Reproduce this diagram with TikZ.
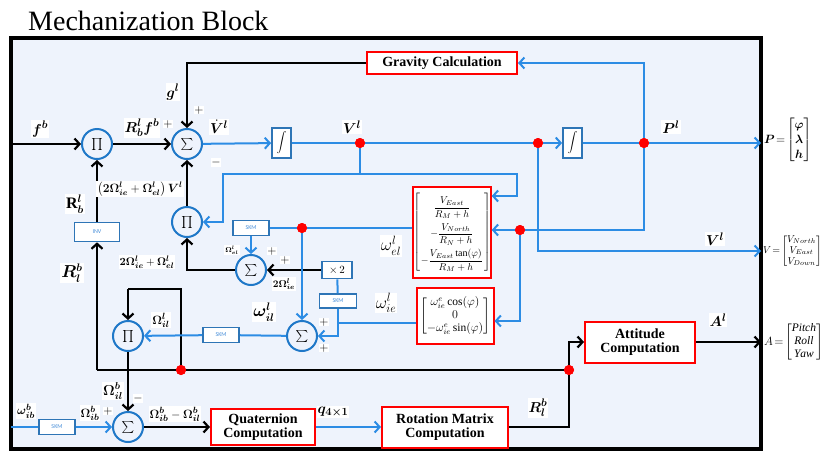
\documentclass[tikz,border=0pt]{standalone}
\usepackage{amsmath}
\usepackage{bm}
\usepackage{fontspec}
\setmainfont{Liberation Serif}
\newfontfamily\skmfont{Carlito}
\usetikzlibrary{arrows.meta,calc}
\definecolor{bgblue}{HTML}{EEF3FC}
\definecolor{lnblue}{HTML}{2C8CE4}
\definecolor{cblue}{HTML}{1F78C8}
\definecolor{bxblue}{HTML}{2E75B6}
\definecolor{skmtxt}{HTML}{4A90D9}
\begin{document}
\begin{tikzpicture}[x=1pt,y=-1pt,
  arr/.style={-{Straight Barb[length=5pt,width=11pt]}},
  blk/.style={draw=black,line width=2.2pt},
  blu/.style={draw=lnblue,line width=2pt},
  opnode/.style={circle,draw=cblue,line width=2pt,fill=bgblue,minimum size=30pt,inner sep=0pt,font=\fontsize{13}{15}\selectfont},
  intbox/.style={draw=bxblue,line width=1.8pt,fill=white,minimum width=19pt,minimum height=30pt,inner sep=0pt},
  skmbox/.style={draw=bxblue,line width=1.6pt,fill=white,minimum width=36pt,minimum height=15pt,inner sep=0pt,font=\skmfont\fontsize{6}{7}\selectfont,text=skmtxt},
  redbox/.style={draw=red,line width=2pt,fill=white,inner sep=0pt,align=center,font=\bfseries\fontsize{14}{16}\selectfont},
  redmat/.style={draw=red,line width=2pt,fill=white,inner sep=0pt},
  lbl/.style={fill=white,inner sep=1pt,font=\fontsize{15}{17}\selectfont},
  sgn/.style={fill=white,inner sep=0.5pt,font=\fontsize{12}{13}\selectfont},
  dot/.style={circle,fill=red,minimum size=10pt,inner sep=0pt}
]
\useasboundingbox (0,0) rectangle (824,453);
\node[anchor=base west,font=\fontsize{28}{30}\selectfont,inner sep=0pt] (title) at (28,30) {Mechanization Block};
\draw[line width=3.5pt,fill=bgblue] (11,38) rectangle (761,449);

% frame coordinates
\coordinate (fin) at (11,144);
\coordinate (pout) at (761,143);
\coordinate (vout) at (761,251);
\coordinate (aout) at (761,342);
\coordinate (win) at (11,427);
\coordinate (c2) at (360,174);
\coordinate (c3) at (517,174);
\coordinate (c5) at (223,174);
\coordinate (c1) at (644,230);
\coordinate (c6) at (338,323);
\coordinate (c7) at (97,370);
\coordinate (c8) at (181,289);
\coordinate (c9) at (128,289);

% operator nodes
\node[opnode] (P1) at (97,144) {$\prod$};
\node[opnode] (S1) at (187,144) {$\sum$};
\node[opnode] (P2) at (187,222) {$\prod$};
\node[opnode] (S3) at (251,270) {$\sum$};
\node[opnode] (S4) at (302,336) {$\sum$};
\node[opnode] (P3) at (128,336) {$\prod$};
\node[opnode] (S5) at (128,427) {$\sum$};

\node[intbox] (I1) at (281.5,143) {$\displaystyle\int$};
\node[intbox] (I2) at (572.5,143) {$\displaystyle\int$};

\node[skmbox] (skm1) at (251,228) {SKM};
\node[skmbox,minimum width=37pt,minimum height=14pt] (skm2) at (338,301) {SKM};
\node[skmbox] (skm3) at (221,335) {SKM};
\node[skmbox] (skm4) at (57,427) {SKM};
\node[skmbox,minimum width=45pt,minimum height=19pt] (inv) at (97,232) {INV};
\node[draw=bxblue,line width=1.6pt,fill=white,minimum width=30pt,minimum height=17pt,inner sep=0pt,font=\fontsize{11}{12}\selectfont] (x2) at (337,270) {$\times\,2$};

\node[redbox,minimum width=150pt,minimum height=22pt] (grav) at (442,63) {Gravity Calculation};
\node[redbox,minimum width=104pt,minimum height=36pt] (quat) at (263,427) {Quaternion\\[-2pt]Computation};
\node[redbox,minimum width=126pt,minimum height=41pt] (rot) at (445,427) {Rotation Matrix\\[-2pt]Computation};
\node[redbox,minimum width=110pt,minimum height=41pt] (att) at (640,342) {Attitude\\[-2pt]Computation};
\node[redmat,minimum width=71pt,minimum height=91pt,font=\fontsize{10}{12}\selectfont] (wel) at (452,232)
 {\renewcommand{\arraystretch}{2.15}\setlength{\arraycolsep}{1pt}$\left[\begin{array}{c}\dfrac{V_{East}}{R_M+h}\\ -\dfrac{V_{North}}{R_N+h}\\ -\dfrac{V_{East}\tan(\varphi)}{R_M+h}\end{array}\right]$};
\node[redmat,minimum width=77pt,minimum height=56pt,font=\fontsize{11.5}{13}\selectfont] (wie) at (455,316)
 {$\begin{bmatrix}\omega_{ie}^{e}\cos(\varphi)\\ 0\\ -\omega_{ie}^{e}\sin(\varphi)\end{bmatrix}$};

% red dots
\node[dot] (d1) at (360,143) {};
\node[dot] (d2) at (538,143) {};
\node[dot] (d3) at (644,143) {};
\node[dot] (d4) at (520,230) {};
\node[dot] (d5) at (302,228) {};
\node[dot] (d6) at (181,370) {};
\node[dot] (d7) at (569,370) {};

% black connectors
\draw[blk,arr] (fin) -- (P1);
\draw[blk,arr] (P1) -- (S1);
\draw[blk,arr] (grav.west) -| (S1.north);
\draw[blk,arr] (P2) -- (S1);
\draw[blk,arr] (S3.west) -| (P2.south);
\draw[blk,arr] (x2) -- (S3);
\draw[blk,arr] (P3) -- (S5);
\draw[blk,arr] (S5) -- (quat);
\draw[blk] (rot.east) -| (d7);
\draw[blk,arr] (d7) |- (att.west);
\draw[blk,arr] (att) -- (aout);
\draw[blk] (d7) -- (d6) -- (c7);
\draw[blk,arr] (c7) -- (inv.south);
\draw[blk,arr] (inv.north) -- (P1.south);
\draw[blk] (d6) -- (c8) -- (c9);
\draw[blk,arr] (c9) -- (P3.north);

% blue connectors
\draw[blu,arr] (S1) -- (I1);
\draw[blu] (I1) -- (d1) -- (d2);
\draw[blu,arr] (d2) -- (I2);
\draw[blu] (I2) -- (d3);
\draw[blu,arr] (d3) -- (pout);
\draw[blu,arr] (d3) |- (grav.east);
\draw[blu] (d3) -- (c1) -- (d4);
\draw[blu,arr] (d4) -- (wel.east |- d4);
\draw[blu,arr] (d4) |- ($(wie.east)+(0,5)$);
\draw[blu,arr] (d2) |- (vout);
\draw[blu] (d1) -- (c2);
\draw[blu,arr] (c2) -- (c3) |- ($(wel.north east)+(0,10.5)$);
\draw[blu,arr] (c2) -- (c5) |- (P2.east);
\draw[blu] ($(wel.west)+(0,-4)$) -- (d5) -- (skm1.east);
\draw[blu,arr] (skm1) -- (S3);
\draw[blu,arr] (d5) -- (S4);
\draw[blu] (x2) -- (skm2);
\draw[blu] ($(wie.west)+(0,7)$) -- (c6);
\draw[blu] (skm2) -- (c6);
\draw[blu,arr] (c6) |- (S4.east);
\draw[blu] (S4) -- (skm3);
\draw[blu,arr] (skm3) -- (P3);
\draw[blu] (win) -- (skm4);
\draw[blu,arr] (skm4) -- (S5);
\draw[blu,arr] (quat) -- (rot);

% redraw dots on top
\foreach \d in {d1,d2,d3,d4,d5,d6,d7} \fill[red] (\d) circle (5pt);

% labels
\node[lbl] (lfb) at (40,129) {$\boldsymbol{f^b}$};
\node[lbl] (lrf) at (142,128) {$\boldsymbol{R_b^l f^b}$};
\node[sgn] (s1) at (168,124) {$+$};
\node[lbl] (lg) at (173,92) {$\boldsymbol{g^l}$};
\node[sgn] (s2) at (199,110) {$+$};
\node[lbl] (lvd) at (219,127) {$\boldsymbol{\dot V^l}$};
\node[sgn] (s3) at (216,162) {$-$};
\node[lbl] (lv) at (352,127) {$\boldsymbol{V^l}$};
\node[lbl] (lp) at (671,127) {$\boldsymbol{P^l}$};
\node[lbl] (lv2) at (715,239) {$\boldsymbol{V^l}$};
\node[lbl] (la) at (718,320) {$\boldsymbol{A^l}$};
\node[lbl] (lrlb2) at (538,408) {$\boldsymbol{R_l^b}$};
\node[lbl] (lq) at (333,412) {$\boldsymbol{q_{4\times 1}}$};
\node[lbl,font=\fontsize{12.5}{14}\selectfont] (ldiff) at (175,414) {$\bm{\Omega}_{\bm{ib}}^{\bm{b}}-\bm{\Omega}_{\bm{il}}^{\bm{b}}$};
\node[lbl,font=\fontsize{13}{14}\selectfont] (lomib) at (90,413) {$\bm{\Omega}_{\bm{ib}}^{\bm{b}}$};
\node[sgn] (s4) at (108,411) {$+$};
\node[lbl,font=\fontsize{13}{14}\selectfont] (lwib) at (26,411) {$\bm{\omega}_{\bm{ib}}^{\bm{b}}$};
\node[lbl,font=\fontsize{14}{15}\selectfont] (lomilb) at (113,391) {$\bm{\Omega}_{\bm{il}}^{\bm{b}}$};
\node[sgn] (s5) at (138,398) {$-$};
\node[lbl,font=\fontsize{13}{14}\selectfont] (lomill) at (161,320) {$\bm{\Omega}_{\bm{il}}^{\bm{l}}$};
\node[lbl,font=\fontsize{16}{18}\selectfont] (lwil) at (264,312) {$\bm{\omega}_{\bm{il}}^{\bm{l}}$};
\node[sgn] (s6) at (324,322) {$+$};
\node[sgn] (s7) at (324,348) {$+$};
\node[lbl,font=\fontsize{10}{11}\selectfont] (l2om) at (284,284) {$\bm{2\Omega}_{\bm{ie}}^{\bm{l}}$};
\node[sgn] (s8) at (272,251) {$+$};
\node[sgn] (s9) at (285,260) {$+$};
\node[lbl,font=\fontsize{7.5}{8}\selectfont] (lomel) at (232,250) {$\bm{\Omega}_{\bm{el}}^{\bm{l}}$};
\node[lbl,font=\fontsize{11}{12}\selectfont] (lsum) at (147,262) {$\bm{2\Omega}_{\bm{ie}}^{\bm{l}}+\bm{\Omega}_{\bm{el}}^{\bm{l}}$};
\node[lbl,font=\fontsize{11.5}{13}\selectfont] (lprod) at (140,189) {$\left(\bm{2\Omega}_{\bm{ie}}^{\bm{l}}+\bm{\Omega}_{\bm{el}}^{\bm{l}}\right)\bm{V}^{\bm{l}}$};
\node[lbl,font=\fontsize{16}{18}\selectfont] (lrbl) at (75,204) {$\mathbf{R}_{\bm{b}}^{\bm{l}}$};
\node[lbl,font=\fontsize{16}{18}\selectfont] (lrlb) at (72,273) {$\bm{R}_{\bm{l}}^{\bm{b}}$};
\node[lbl,font=\fontsize{17}{19}\selectfont] (lwel) at (391,246) {$\omega_{el}^{l}$};
\node[lbl,font=\fontsize{17}{19}\selectfont] (lwie) at (386,303) {$\omega_{ie}^{l}$};

% outputs
\node[anchor=west,inner sep=0pt,font=\fontsize{13}{15}\selectfont] (outp) at (764,140)
 {\setlength{\arraycolsep}{1.5pt}$\bm{P}\!=\!\begin{bmatrix}\bm{\varphi}\\ \bm{\lambda}\\ \bm{h}\end{bmatrix}$};
\node[anchor=west,inner sep=0pt,font=\fontsize{10}{11}\selectfont] (outv) at (763,251)
 {\setlength{\arraycolsep}{1pt}$V\!=\!\begin{bmatrix}V_{North}\\ V_{East}\\ V_{Down}\end{bmatrix}$};
\node[anchor=west,inner sep=0pt,font=\fontsize{11.5}{13}\selectfont] (outa) at (764,342)
 {\setlength{\arraycolsep}{1pt}$A\!=\!\begin{bmatrix}\mathit{Pitch}\\ \mathit{Roll}\\ \mathit{Yaw}\end{bmatrix}$};
\end{tikzpicture}
\end{document}
